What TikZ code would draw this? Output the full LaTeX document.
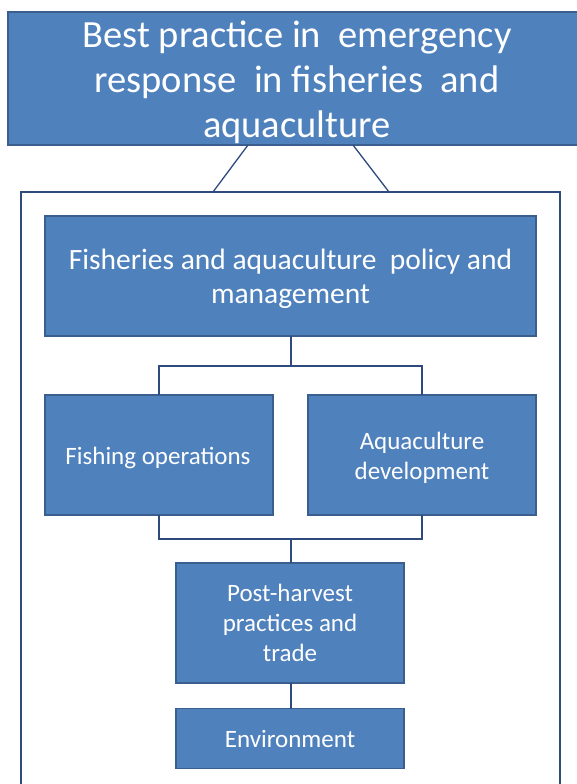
\documentclass[tikz,border=0pt]{standalone}
\usepackage{fontspec}
\setmainfont{Carlito}
\definecolor{boxfill}{HTML}{4F81BD}
\definecolor{boxline}{HTML}{3A5F8F}
\definecolor{conn}{HTML}{2F4B7E}
\begin{document}
\begin{tikzpicture}[x=1pt,y=-1pt,
  bluebox/.style={draw=boxline,line width=1.6pt,fill=boxfill,text=white,align=center,
    inner sep=0pt,outer sep=0pt,anchor=center},
  boxtext/.style={text=white,align=center,inner sep=0pt},
  link/.style={draw=conn,line width=1.5pt},
  outerframe/.style={draw=conn,line width=1.4pt,inner sep=0pt,outer sep=0pt}]
\useasboundingbox (0,0) rectangle (577,784);
\clip (0,0) rectangle (577,784);
\fill[white] (0,0) rectangle (577,784);
% outer frame
\node[outerframe,minimum width=539pt,minimum height=608pt] (frame) at (290.5,496) {};
% top title
\node[bluebox,minimum width=578pt,minimum height=133pt] (top) at (297,78.5) {};
\node[boxtext,font=\fontsize{38.5}{45}\selectfont] (toptext) at (297,82)
  {Best practice in\ \ emergency\\response\ \ in fisheries\ \ and\\aquaculture};
\coordinate (tl) at (248,145);
\coordinate (tr) at (353,145);
\coordinate (fl) at (213,192);
\coordinate (fr) at (389,192);
\draw[link,line width=1.3pt] (tl) -- (fl);
\draw[link,line width=1.3pt] (tr) -- (fr);
% policy
\node[bluebox,minimum width=491pt,minimum height=120pt] (policy) at (290.5,276) {};
\node[boxtext,font=\fontsize{29.5}{34}\selectfont] (policytext) at (290.5,279)
  {Fisheries and aquaculture\ \ policy and\\management};
\node[bluebox,minimum width=228pt,minimum height=120pt] (fish) at (159,455) {};
\node[boxtext,font=\fontsize{25}{30}\selectfont] (fishtext) at (158,458) {Fishing operations};
\node[bluebox,minimum width=228pt,minimum height=120pt] (aqua) at (422,455) {};
\node[boxtext,font=\fontsize{25}{30}\selectfont] (aquatext) at (422,458) {Aquaculture\\development};
\node[bluebox,minimum width=228pt,minimum height=120pt,
  font=\fontsize{25}{30}\selectfont] (post) at (290,623) {Post-harvest\\practices and\\trade};
\node[bluebox,minimum width=228pt,minimum height=60pt,
  font=\fontsize{25}{30}\selectfont] (env) at (290,738.5) {Environment};
% connectors
\coordinate (j1) at (291,366);
\coordinate (j2) at (291,539);
\draw[link] (policy.south -| j1) -- (j1);
\draw[link] (fish.north) |- (j1) -| (aqua.north);
\draw[link] (fish.south) |- (j2) -| (aqua.south);
\draw[link] (j2) -- (post.north -| j2);
\draw[link] (post.south -| j2) -- (env.north -| j2);
\end{tikzpicture}
\end{document}
